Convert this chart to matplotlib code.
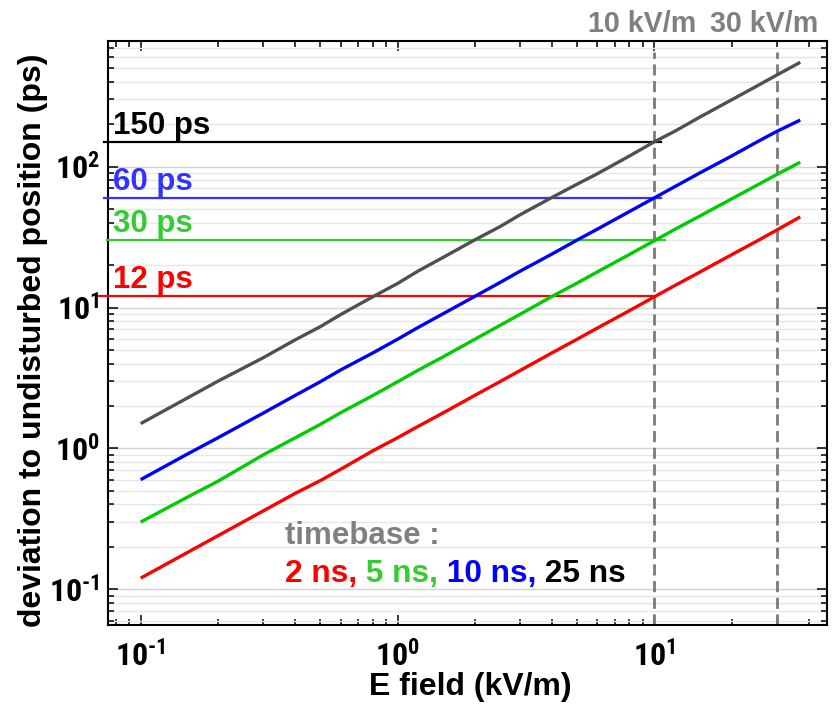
import math
import matplotlib
matplotlib.use("Agg")
import matplotlib.pyplot as plt
from matplotlib import font_manager
from matplotlib.ticker import LogLocator, FuncFormatter, NullFormatter

plt.rcParams['font.family'] = ['Liberation Sans', 'DejaVu Sans']
plt.rcParams['font.weight'] = 'bold'

# narrow bold font for the tick labels, if one is available
tick_family = 'Liberation Sans'
tick_size = 22
for cand in ['Liberation Sans Narrow', 'Roboto Condensed', 'DejaVu Sans Condensed',
             'Open Sans Condensed', 'Noto Sans Condensed']:
    try:
        font_manager.findfont(font_manager.FontProperties(family=cand, weight='bold'),
                              fallback_to_default=False)
        tick_family = cand
        tick_size = 23
        break
    except Exception:
        pass

plt.rcParams['mathtext.fontset'] = 'custom'
plt.rcParams['mathtext.bf'] = tick_family + ':bold'
plt.rcParams['mathtext.rm'] = tick_family + ':bold'
plt.rcParams['mathtext.it'] = tick_family + ':bold'

# ---------------- data ----------------
e_field = [0.1, 0.15, 0.2, 0.3, 0.4, 0.5, 0.6, 0.8, 1.0, 1.2, 1.5, 2.0, 2.5, 3.0,
           4.0, 5.0, 6.0, 8.0, 10.0, 12.0, 15.0, 20.0, 25.0, 30.0, 37.0]
dev_25ns = [1.5, 2.25, 3.0, 4.4, 5.9, 7.3, 8.9, 11.9, 14.8, 18.1, 22.6, 30.2, 37.4, 45.5,
            60.5, 75, 89, 119, 150, 178, 224, 298, 372, 447, 550]
dev_10ns = [0.6, 0.9, 1.19, 1.78, 2.38, 2.97, 3.6, 4.75, 5.95, 7.2, 9.0, 12.0, 15.0, 18.1,
            24.0, 30.1, 36.0, 48.0, 60, 72, 90, 119, 149, 178, 214]
dev_5ns = [0.3, 0.445, 0.585, 0.9, 1.19, 1.48, 1.79, 2.37, 2.97, 3.58, 4.45, 5.95, 7.45, 8.95,
           12.0, 14.9, 17.9, 23.8, 29.8, 35.8, 44.5, 59, 73.5, 88, 107.5]
dev_2ns = [0.12, 0.18, 0.24, 0.36, 0.48, 0.59, 0.71, 0.96, 1.19, 1.43, 1.78, 2.38, 2.97, 3.57,
           4.77, 5.95, 7.15, 9.5, 11.9, 14.3, 17.8, 23.7, 29.5, 35.5, 44]

thresholds = [150, 60, 30, 12]
threshold_labels = ['150 ps', '60 ps', '30 ps', '12 ps']
threshold_xstart = [0.072, 0.072, 0.074, 0.069]
threshold_xend = [10.6, 10.6, 11.0, 9.9]
vlines_x = [10, 30]
vline_labels = ['10 kV/m', '30 kV/m']
timebase_labels = ['2 ns,', ' 5 ns,', ' 10 ns,', ' 25 ns']

# ---------------- style ----------------
c_gray = '#505050'
c_blue = '#0000ff'
c_green = '#00cc00'
c_red = '#ff0000'
thr_colors = ['#000000', '#3333ff', '#33cc33', '#ff0000']
tb_colors = ['#ff0000', '#33cc33', '#0000ff', '#000000']

fig = plt.figure(figsize=(8.32, 7.07), dpi=100)
ax = fig.add_axes([108.3 / 832, 1 - 625.3 / 707, (826.7 - 108.3) / 832, (625.3 - 40.7) / 707])
ax.set_xscale('log')
ax.set_yscale('log')
ax.set_xlim(0.0748, 46.9)
ax.set_ylim(0.0555, 783)

ax.set_axisbelow(True)
ax.yaxis.grid(True, which='minor', color='#e6e6e6', lw=1.0)
ax.yaxis.grid(True, which='major', color='#d2d2d2', lw=1.0)

# threshold lines
for yv, lab, xs, xe, col in zip(thresholds, threshold_labels, threshold_xstart, threshold_xend, thr_colors):
    ax.plot([xs, xe], [yv, yv], color=col, lw=1.6, clip_on=False, zorder=3)
    ax.text(0.078, yv * 1.02, lab, color=col, fontsize=22.5, fontweight='bold',
            va='bottom', ha='left', zorder=4)

# dashed verticals
for xv in vlines_x:
    ax.axvline(xv, ymin=0, ymax=0.98, color='#7a7a7a', lw=2.0, ls=(0, (4.0, 2.0)), zorder=2)

# data lines
for yv, col in [(dev_25ns, c_gray), (dev_10ns, c_blue), (dev_5ns, c_green), (dev_2ns, c_red)]:
    ax.plot(e_field, yv, color=col, lw=2.4, zorder=5, solid_capstyle='butt')


def fmt(v, p):
    e = int(round(math.log10(v)))
    if e < 0:
        return r'$\mathbf{10^{\text{-%d}}}$' % (-e)
    return r'$\mathbf{10^{%d}}$' % e


# ticks
for axis in (ax.xaxis, ax.yaxis):
    axis.set_major_locator(LogLocator(base=10, numticks=20))
    axis.set_minor_locator(LogLocator(base=10, subs=range(2, 10), numticks=20))
    axis.set_minor_formatter(NullFormatter())
    axis.set_major_formatter(FuncFormatter(fmt))
ax.tick_params(which='both', direction='in', top=True, right=True, width=1.1, color='black')
ax.tick_params(which='major', length=7.5, labelsize=tick_size)
ax.tick_params(which='minor', length=4)
ax.tick_params(axis='x', which='major', pad=11)
ax.tick_params(axis='y', which='major', pad=6)
for sp in ax.spines.values():
    sp.set_linewidth(1.5)

ax.set_xlabel('E field (kV/m)', fontsize=23, fontweight='bold')
ax.xaxis.label.set_va('baseline')
ax.xaxis.set_label_coords(470 / 832, 12 / 707, transform=fig.transFigure)
ax.set_ylabel('deviation to undisturbed position (ps)', fontsize=23, fontweight='bold')
ax.yaxis.label.set_va('baseline')
ax.yaxis.set_label_coords(41 / 832, 1 - 340 / 707, transform=fig.transFigure)

# vline labels
fig.text(588.3 / 832, 1 - 31.7 / 707, vline_labels[0], color='#7f7f7f', fontsize=20.6,
         fontweight='bold', ha='left', va='baseline')
fig.text(818 / 832, 1 - 31.7 / 707, vline_labels[1], color='#7f7f7f', fontsize=20.6,
         fontweight='bold', ha='right', va='baseline')

# timebase legend
fig.text(285 / 832, 1 - 544 / 707, 'timebase :', color='#808080', fontsize=22.5,
         fontweight='bold', ha='left', va='baseline')
prev = fig.text(285 / 832, 1 - 581.7 / 707, timebase_labels[0], color=tb_colors[0], fontsize=22.8,
                fontweight='bold', ha='left', va='baseline')
for lab, col in zip(timebase_labels[1:], tb_colors[1:]):
    prev = ax.annotate(lab, xy=(1, 0), xycoords=prev, color=col, fontsize=22.8,
                       fontweight='bold', ha='left', va='bottom')

fig.savefig('out.png', dpi=100)
